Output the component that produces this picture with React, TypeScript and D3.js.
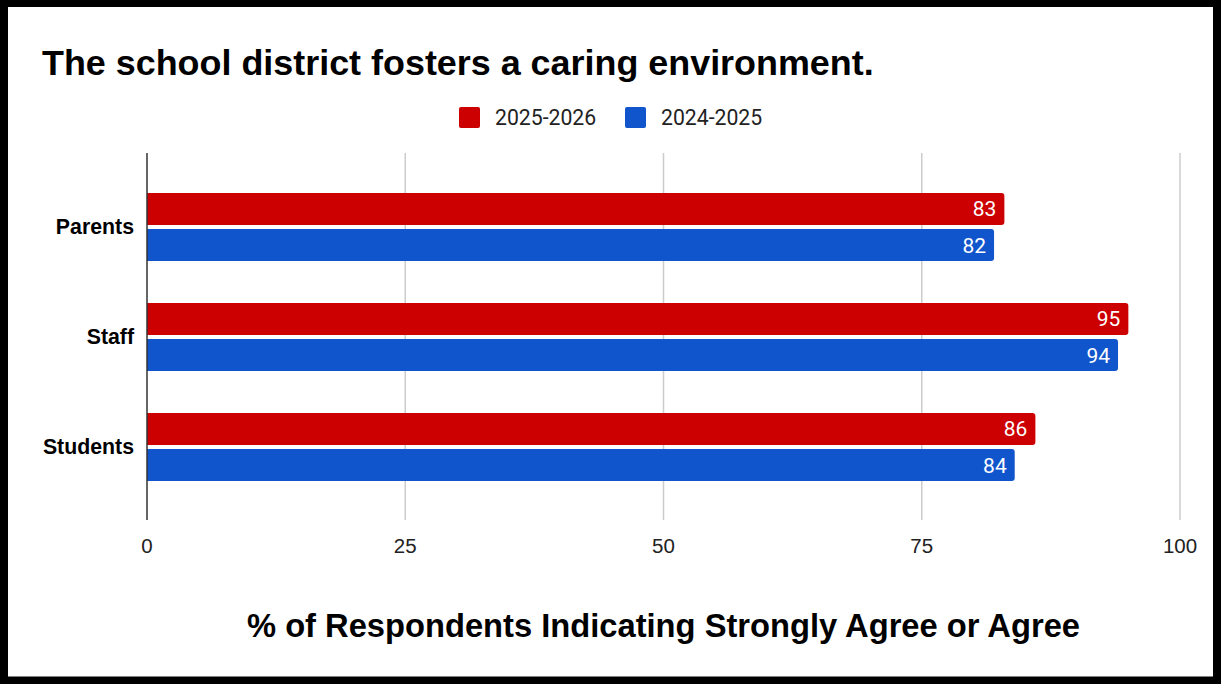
import React from "react";
import * as d3 from "d3";

const categories = ["Parents", "Staff", "Students"];
const seriesNames = ["2025-2026", "2024-2025"];
const values2025_2026 = [83, 95, 86];
const values2024_2025 = [82, 94, 84];
const xTicks = [0, 25, 50, 75, 100];
const colors = ["#cc0000", "#1155cc"];

const W = 1222;
const H = 684;

function barPath(x0: number, x1: number, y: number, h: number, r: number) {
  const rr = Math.min(r, (x1 - x0) / 2);
  return `M${x0},${y}H${x1 - rr}Q${x1},${y} ${x1},${y + rr}V${y + h - rr}Q${x1},${y + h} ${x1 - rr},${y + h}H${x0}Z`;
}

export default function App() {
  const x = d3.scaleLinear().domain([0, 100]).range([147, 1180]);
  const y = d3.scaleBand().domain(categories).range([172, 502]).paddingInner(0.38).paddingOuter(0.19);
  const inner = d3.scaleBand().domain(seriesNames).range([0, y.bandwidth()]).paddingInner(0.11);
  const series = [values2025_2026, values2024_2025];
  const gridTop = 153;
  const gridBottom = 520;
  const sans = "Arial, 'Liberation Sans', sans-serif";
  const roboto = "Roboto, Arial, sans-serif";

  return (
    <svg width={W} height={H} style={{ position: "absolute", left: 0, top: 0 }}>
      <rect x={0} y={0} width={W} height={H} fill="#fff" />
      <rect x={4} y={3} width={1213} height={677.5} fill="#fff" stroke="#000" strokeWidth={8} />
      <text x={42} y={75} fontFamily={sans} fontWeight="bold" fontSize={35.9} fill="#000">
        The school district fosters a caring environment.
      </text>
      {seriesNames.map((s, i) => {
        const lx = [459, 625][i];
        return (
          <g key={s}>
            <rect x={lx} y={107} width={21} height={21} rx={2} fill={colors[i]} />
            <text x={lx + 36} y={125} fontFamily={roboto} fontSize={21.2} fill="#222">
              {s}
            </text>
          </g>
        );
      })}
      {xTicks.map((t) => (
        <g key={t}>
          {t !== 0 && (
            <line x1={x(t)} x2={x(t)} y1={gridTop} y2={gridBottom} stroke="#cccccc" strokeWidth={1.5} />
          )}
          <text x={x(t)} y={553} textAnchor="middle" fontFamily={sans} fontSize={20.5} fill="#222">
            {t}
          </text>
        </g>
      ))}
      {categories.map((c, ci) => (
        <g key={c}>
          {series.map((vals, si) => {
            const by = (y(c) as number) + (inner(seriesNames[si]) as number);
            const bh = inner.bandwidth();
            return (
              <g key={si}>
                <path d={barPath(x(0), x(vals[ci]), by, bh, 3)} fill={colors[si]} />
                <text
                  x={x(vals[ci]) - 8}
                  y={by + bh / 2 + 7.5}
                  textAnchor="end"
                  fontFamily={roboto}
                  fontSize={21}
                  fill="#fff"
                >
                  {vals[ci]}
                </text>
              </g>
            );
          })}
          <text
            x={134}
            y={(y(c) as number) + y.bandwidth() / 2 + 7}
            textAnchor="end"
            fontFamily={sans}
            fontWeight="bold"
            fontSize={21.3}
            fill="#000"
          >
            {c}
          </text>
        </g>
      ))}
      <line x1={x(0)} x2={x(0)} y1={gridTop} y2={gridBottom} stroke="#333" strokeWidth={1.5} />
      <text x={663.5} y={637} textAnchor="middle" fontFamily={sans} fontWeight="bold" fontSize={32.7} fill="#000">
        % of Respondents Indicating Strongly Agree or Agree
      </text>
    </svg>
  );
}
